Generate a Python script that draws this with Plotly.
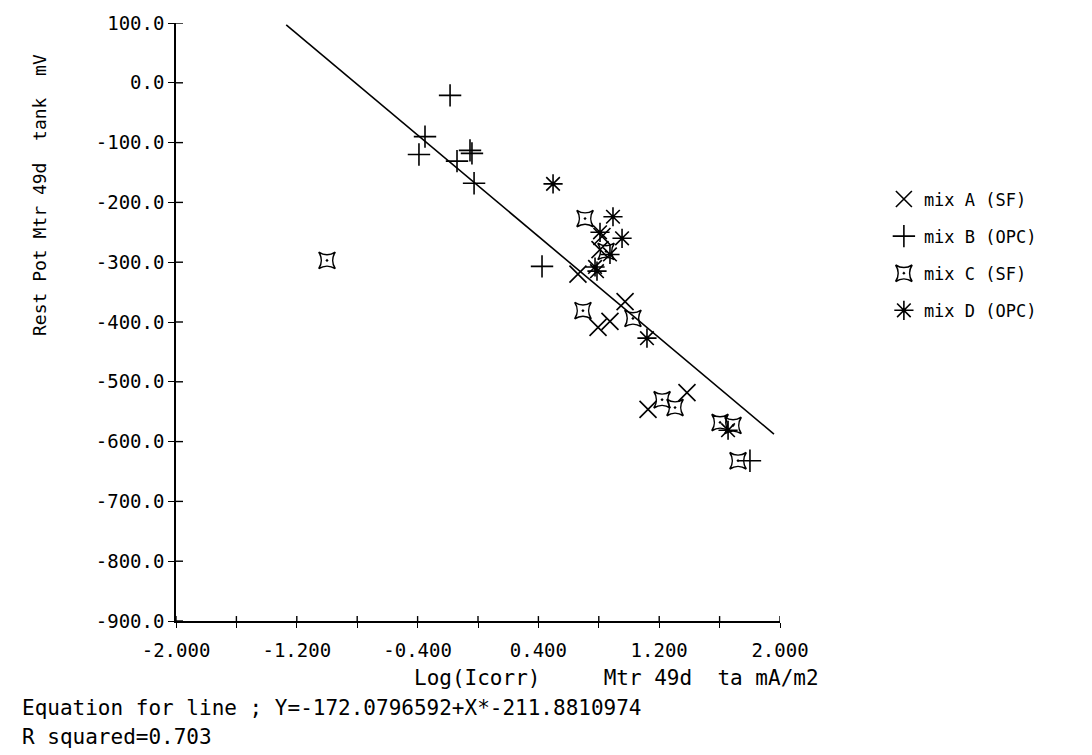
import plotly.graph_objects as go

# Log(Icorr) (mA/m2) and rest potential (mV) for each mix
mix_a_x = [0.821, 0.808, 0.662, 0.974, 0.795, 0.874, 1.126, 1.384]
mix_a_y = [-257, -279, -320, -366, -409, -399, -546, -518]

mix_b_x = [-0.185, -0.351, -0.391, -0.139, -0.053, -0.040, -0.026, 0.424, 1.801]
mix_b_y = [-21, -90, -120, -131, -113, -118, -168, -307, -632]

mix_c_x = [-1.000, 0.709, 0.848, 0.695, 1.026, 1.219, 1.305, 1.603, 1.689, 1.722]
mix_c_y = [-297, -227, -282, -381, -394, -530, -543, -568, -573, -632]

mix_d_x = [0.497, 0.894, 0.808, 0.954, 0.874, 0.788, 0.775, 1.119, 1.656]
mix_d_y = [-169, -224, -250, -260, -287, -315, -308, -427, -581]

series_names = ["mix A (SF)", "mix B (OPC)", "mix C (SF)", "mix D (OPC)"]

# Fitted regression line
INTERCEPT = -172.0796592
SLOPE = -211.8810974
R_SQUARED = 0.703
line_x = [-1.27, 1.96]

x_ticks = [-2.0, -1.6, -1.2, -0.8, -0.4, 0.0, 0.4, 0.8, 1.2, 1.6, 2.0]
x_tick_text = ["-2.000", "", "-1.200", "", "-0.400", "", "0.400", "", "1.200", "", "2.000"]
y_ticks = [100, 0, -100, -200, -300, -400, -500, -600, -700, -800, -900]
y_tick_text = [f"{v:.1f}" for v in y_ticks]

FONT = "DejaVu Sans Mono"
INK = "black"

# plot area in pixels
L, R, T, B = 176, 780, 16, 621
PW, PH = R - L, B - T

fig = go.Figure()

fig.add_trace(go.Scatter(
    x=line_x, y=[INTERCEPT + SLOPE * v for v in line_x],
    mode="lines", line=dict(color=INK, width=1.6),
    showlegend=False, hoverinfo="skip"))

marker_styles = [
    ("x-thin-open", 17),
    ("cross-thin-open", 16),
    ("star-square-open-dot", 15),
    ("asterisk-open", 16),
]
series = [(mix_a_x, mix_a_y), (mix_b_x, mix_b_y), (mix_c_x, mix_c_y), (mix_d_x, mix_d_y)]

for i, ((xs, ys), name, (sym, size)) in enumerate(zip(series, series_names, marker_styles)):
    fig.add_trace(go.Scatter(
        x=xs, y=ys, mode="markers", name=name, legendgroup=f"g{i}",
        marker=dict(symbol=sym, size=size, color=INK,
                    line=dict(color=INK, width=1.6))))

axis_common = dict(showgrid=False, zeroline=False, showline=True,
                   linecolor=INK, linewidth=1.6, tickcolor=INK, tickwidth=1.4,
                   tickfont=dict(family=FONT, size=19, color=INK))

fig.update_layout(
    width=1092, height=755,
    margin=dict(l=L, r=1092 - R, t=T, b=755 - B),
    paper_bgcolor="white", plot_bgcolor="white",
    font=dict(family=FONT, color=INK),
    xaxis=dict(range=[-2, 2], tickmode="array", tickvals=x_ticks, ticktext=x_tick_text,
               ticks="outside", ticklen=5, ticklabelstandoff=6, **axis_common),
    yaxis=dict(range=[-900, 100], tickmode="array", tickvals=y_ticks, ticktext=y_tick_text,
               ticks="outside", ticklen=6, **axis_common),
    legend=dict(x=1.172, y=0.735, xanchor="left", yanchor="top",
                font=dict(family=FONT, size=17, color=INK),
                tracegroupgap=12, itemwidth=30, bgcolor="rgba(0,0,0,0)"),
    showlegend=True,
)

# tick marks continue across the axis lines into the plot area
for v in y_ticks:
    fig.add_shape(type="line", xref="paper", yref="y",
                  x0=0, x1=7 / PW, y0=v, y1=v,
                  line=dict(color=INK, width=1.4))
for v in x_ticks:
    fig.add_shape(type="line", xref="x", yref="paper",
                  x0=v, x1=v, y0=0, y1=5 / PH,
                  line=dict(color=INK, width=1.4))

# y-axis title, rotated and sitting towards the top of the axis
fig.add_annotation(
    text="Rest Pot Mtr 49d\u00a0\u00a0tank\u00a0\u00a0mV",
    xref="paper", yref="paper", x=(40 - L) / PW, y=(B - 190) / PH,
    xanchor="center", yanchor="middle", textangle=-90, showarrow=False,
    font=dict(family=FONT, size=18, color=INK))

fig.add_annotation(
    text="Log(Icorr)\u00a0\u00a0\u00a0\u00a0\u00a0Mtr 49d\u00a0\u00a0ta mA/m2",
    xref="paper", yref="paper", x=(412 - L) / PW, y=(B - 679) / PH,
    xanchor="left", yanchor="middle", showarrow=False,
    font=dict(family=FONT, size=21, color=INK))

fig.add_annotation(
    text=f"Equation for line ; Y={INTERCEPT:.7f}+X*{SLOPE:.7f}",
    xref="paper", yref="paper", x=(20 - L) / PW, y=(B - 709) / PH,
    xanchor="left", yanchor="middle", showarrow=False,
    font=dict(family=FONT, size=21, color=INK))

fig.add_annotation(
    text=f"R squared={R_SQUARED:.3f}",
    xref="paper", yref="paper", x=(20 - L) / PW, y=(B - 738) / PH,
    xanchor="left", yanchor="middle", showarrow=False,
    font=dict(family=FONT, size=21, color=INK))

fig.write_html("out.html")
